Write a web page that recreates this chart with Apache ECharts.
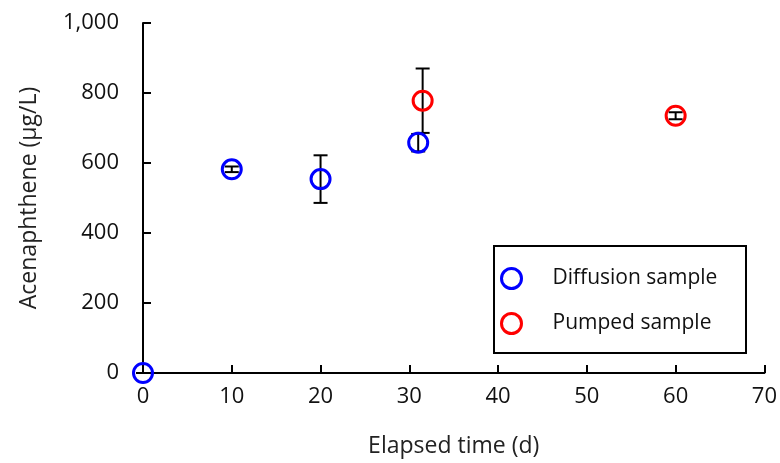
<!DOCTYPE html>
<html>
<head>
<meta charset="utf-8">
<script src="https://cdn.jsdelivr.net/npm/echarts@6/dist/echarts.min.js"></script>
<style>html,body{margin:0;padding:0;background:#fff}#main{width:780px;height:463px}</style>
</head>
<body>
<div id="main"></div>
<script>
// data: [time (d), value (ug/L), error]
var diffusionData = [[0, 0, 0], [10, 582, 8], [20, 554, 68], [31, 658, 25]];
var pumpedData = [[31.5, 778, 92], [60, 735, 10]];

var chart = echarts.init(document.getElementById('main'));
var font = '"Open Sans", "Noto Sans", sans-serif';

function errorBars(d) {
    return d.map(function (p) { return [p[0], p[1] - p[2], p[1] + p[2]]; });
}
function renderError(params, api) {
    var x = api.value(0);
    var lo = api.coord([x, api.value(1)]);
    var hi = api.coord([x, api.value(2)]);
    var w = 7;
    var st = { stroke: '#000', lineWidth: 2 };
    return {
        type: 'group',
        children: [
            { type: 'line', shape: { x1: lo[0], y1: lo[1], x2: hi[0], y2: hi[1] }, style: st },
            { type: 'line', shape: { x1: lo[0] - w, y1: lo[1], x2: lo[0] + w, y2: lo[1] }, style: st },
            { type: 'line', shape: { x1: hi[0] - w, y1: hi[1], x2: hi[0] + w, y2: hi[1] }, style: st }
        ]
    };
}

var option = {
    animation: false,
    grid: { left: 143, right: 14, top: 23, bottom: 86 },
    graphic: [{
        type: 'rect', left: 493, top: 245, z: 5,
        shape: { width: 252, height: 107 },
        style: { fill: '#fff', stroke: '#000', lineWidth: 2 }
    }],
    xAxis: {
        type: 'value', min: 0, max: 70, interval: 10,
        name: 'Elapsed time (d)', nameLocation: 'middle', nameGap: 62,
        nameTextStyle: { fontFamily: font, fontSize: 23, color: '#222' },
        axisLine: { lineStyle: { color: '#000', width: 2 } },
        axisTick: { show: true, inside: true, length: 8, lineStyle: { color: '#000', width: 2 } },
        axisLabel: { fontFamily: font, fontSize: 22, color: '#111', margin: 13 },
        splitLine: { show: false }
    },
    yAxis: {
        type: 'value', min: 0, max: 1000, interval: 200,
        name: 'Acenaphthene (\u00b5g/L)', nameLocation: 'middle', nameGap: 102,
        nameTextStyle: { fontFamily: font, fontSize: 23, color: '#222' },
        axisLine: { show: true, lineStyle: { color: '#000', width: 2 } },
        axisTick: { show: true, inside: true, length: 8, lineStyle: { color: '#000', width: 2 } },
        axisLabel: {
            fontFamily: font, fontSize: 22, color: '#111', margin: 24,
            formatter: function (v) { return v.toLocaleString('en-US'); }
        },
        splitLine: { show: false }
    },
    legend: {
        orient: 'vertical', left: 500, top: 267, z: 6,
        padding: 0, itemGap: 22,
        itemWidth: 20, itemHeight: 20,
        textStyle: { fontFamily: font, fontSize: 21, color: '#111', padding: [0, 0, 0, 26] },
        data: [
            { name: 'Diffusion sample', icon: 'circle', itemStyle: { color: 'transparent', borderColor: '#0000ff', borderWidth: 3, opacity: 1 } },
            { name: 'Pumped sample', icon: 'circle', itemStyle: { color: 'transparent', borderColor: '#ff0000', borderWidth: 3, opacity: 1 } }
        ]
    },
    series: [
        { type: 'custom', name: 'errDiff', renderItem: renderError, data: errorBars(diffusionData), z: 1, encode: { x: 0, y: [1, 2] } },
        { type: 'custom', name: 'errPump', renderItem: renderError, data: errorBars(pumpedData), z: 1, encode: { x: 0, y: [1, 2] } },
        {
            type: 'scatter', name: 'Diffusion sample', symbol: 'circle', symbolSize: 19, z: 3,
            itemStyle: { color: 'rgba(0,0,0,0)', borderColor: '#0000ff', borderWidth: 3, opacity: 1 },
            data: diffusionData.map(function (p) { return [p[0], p[1]]; })
        },
        {
            type: 'scatter', name: 'Pumped sample', symbol: 'circle', symbolSize: 19, z: 3,
            itemStyle: { color: 'rgba(0,0,0,0)', borderColor: '#ff0000', borderWidth: 3, opacity: 1 },
            data: pumpedData.map(function (p) { return [p[0], p[1]]; })
        }
    ]
};
chart.setOption(option);
</script>
</body>
</html>
